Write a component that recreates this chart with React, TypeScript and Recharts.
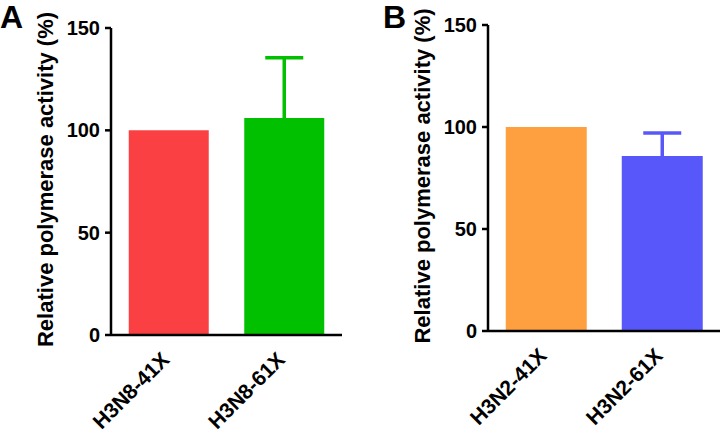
import React from 'react';
import { BarChart, Bar, XAxis, YAxis, Cell, ErrorBar, Label } from 'recharts';

const categoriesA = ['H3N8-41X', 'H3N8-61X'];
const valuesA = [100, 106];
const errorsA = [null, 29.5];
const colorsA = ['#FA4043', '#00C000'];

const categoriesB = ['H3N2-41X', 'H3N2-61X'];
const valuesB = [100, 85.8];
const errorsB = [null, 11.3];
const colorsB = ['#FFA040', '#5858FA'];

const yTicks = [0, 50, 100, 150];
const yLabel = 'Relative polymerase activity (%)';
const FONT = '"Liberation Sans", Arial, sans-serif';

// lower end of the error bar is tucked 1 unit inside the bar so only the upper whisker shows
const buildData = (cats: string[], vals: number[], errs: (number | null)[]) =>
  cats.map((name, i) => ({ name, value: vals[i], err: errs[i] == null ? undefined : [1, errs[i]] }));

const XTick = (props: any) => {
  const { x, y, payload } = props;
  const ax = x + 2;
  const ay = y + 18;
  return (
    <text
      x={ax}
      y={ay}
      transform={`rotate(-45, ${ax}, ${ay})`}
      textAnchor="end"
      fontFamily={FONT}
      fontWeight="bold"
      fontSize={21}
      fill="#000"
    >
      {payload.value}
    </text>
  );
};

interface PanelProps {
  letter: string;
  data: any[];
  colors: string[];
  axisWidth: number;
  labelX: number;
  top: number;
  bottom: number;
  right: number;
}

const Panel = (p: PanelProps) => (
  <div style={{ position: 'relative', width: 360, height: 433 }}>
    <BarChart
      width={360}
      height={433}
      data={p.data}
      margin={{ top: p.top, right: p.right, bottom: 0, left: 0 }}
      barCategoryGap={17.75}
    >
      <XAxis
        dataKey="name"
        height={433 - p.bottom}
        tickLine={false}
        axisLine={{ stroke: '#000', strokeWidth: 2.5 }}
        tick={<XTick />}
        interval={0}
      />
      <YAxis
        width={p.axisWidth}
        domain={[0, 150]}
        ticks={yTicks}
        tickSize={6}
        axisLine={{ stroke: '#000', strokeWidth: 2.5 }}
        tickLine={{ stroke: '#000', strokeWidth: 2.5 }}
        tick={{ fill: '#000', fontSize: 20, fontWeight: 'bold', fontFamily: FONT, dx: -3 }}
      >
        <Label
          content={(lp: any) => {
            const vb = lp.viewBox;
            const cy = vb.y + vb.height / 2 - 2;
            return (
              <text
                x={p.labelX}
                y={cy}
                transform={`rotate(-90, ${p.labelX}, ${cy})`}
                textAnchor="middle"
                fontFamily={FONT}
                fontWeight="bold"
                fontSize={22}
                fill="#000"
              >
                {yLabel}
              </text>
            );
          }}
        />
      </YAxis>
      <Bar dataKey="value" isAnimationActive={false}>
        {p.data.map((d, i) => (
          <Cell key={d.name} fill={p.colors[i]} />
        ))}
        <ErrorBar dataKey="err" width={19} strokeWidth={3.5} stroke={p.colors[1]} direction="y" />
      </Bar>
    </BarChart>
    <div
      style={{
        position: 'absolute',
        left: p.letter === 'A' ? 0 : 23,
        top: -1,
        fontFamily: FONT,
        fontWeight: 'bold',
        fontSize: 32,
        color: '#000',
      }}
    >
      {p.letter}
    </div>
  </div>
);

export default function App() {
  return (
    <div style={{ position: 'absolute', left: 0, top: 0, width: 720, height: 433, display: 'flex', background: '#fff' }}>
      <Panel
        letter="A"
        data={buildData(categoriesA, valuesA, errorsA)}
        colors={colorsA}
        axisWidth={111}
        labelX={53}
        top={28}
        bottom={335}
        right={18}
      />
      <Panel
        letter="B"
        data={buildData(categoriesB, valuesB, errorsB)}
        colors={colorsB}
        axisWidth={128}
        labelX={70}
        top={25}
        bottom={331}
        right={0}
      />
    </div>
  );
}
